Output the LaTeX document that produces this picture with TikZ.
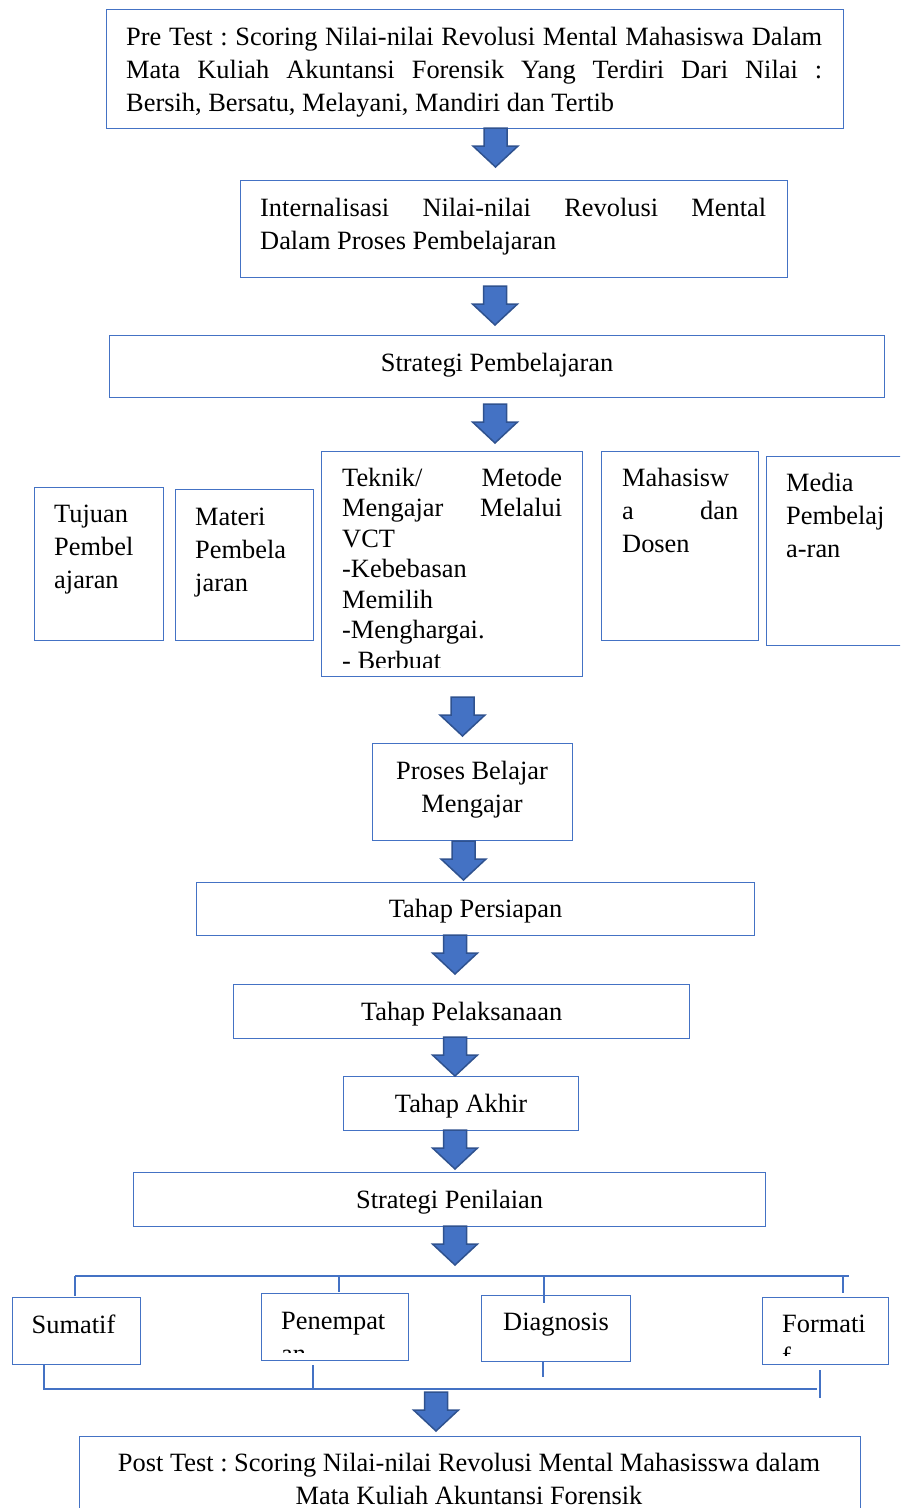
\documentclass[tikz,border=0pt]{standalone}
\usepackage{fontspec}
\setmainfont{Liberation Serif}
\usepackage{tikz}
\usetikzlibrary{positioning,calc}
\definecolor{boxblue}{HTML}{4472C4}
\definecolor{arrowedge}{HTML}{2F528F}
\newcommand{\flowfont}{\fontsize{26.4}{33}\selectfont\frenchspacing}
\newcommand{\spread}[2]{\makebox[#1][s]{#2}}
\tikzset{
  flowbox/.style={draw=boxblue, line width=1.2pt, inner sep=0pt, anchor=north west},
  midbox/.style={flowbox, font=\flowfont, text height=21pt, text depth=4pt},
  boxtext/.style={font=\flowfont, inner sep=0pt, anchor=base west, align=left,
    execute at begin node={\spaceskip=0pt\xspaceskip=0pt\relax}},
  rail/.style={draw=boxblue, line width=1.2pt},
  pics/downarrow/.style={code={
    \filldraw[fill=boxblue, draw=arrowedge, line width=1.5pt]
      (-11.5,0) -- (11.5,0) -- (11.5,18) -- (22.5,18) -- (0,39)
      -- (-22.5,18) -- (-11.5,18) -- cycle;
  }},
}
\begin{document}
\begin{tikzpicture}[x=1pt, y=-1pt]
  \useasboundingbox (0,0) rectangle (900,1508);
  \clip (0,0) rectangle (900,1508);

  % Pre test
  \node[flowbox, minimum width=737pt, minimum height=119pt] (pre) at (106,9) {};
  \node[boxtext, text width=696pt] (pretxt) at (126,45)
    {\spread{696pt}{Pre Test : Scoring Nilai-nilai Revolusi Mental Mahasiswa Dalam}\\
     \spread{696pt}{Mata Kuliah Akuntansi Forensik Yang Terdiri Dari Nilai :}\\
     Bersih, Bersatu, Melayani, Mandiri dan Tertib};

  % Internalisasi
  \node[flowbox, minimum width=547pt, minimum height=97pt] (intern) at (240,180) {};
  \node[boxtext, text width=506pt] (interntxt) at (260,216)
    {\spread{506pt}{Internalisasi Nilai-nilai Revolusi Mental}\\
     Dalam Proses Pembelajaran};

  % Strategi pembelajaran
  \node[midbox, minimum width=775pt, minimum height=62pt,
        text height=19pt, text depth=9pt] (strategi) at (109,335)
    {Strategi Pembelajaran};

  % Komponen
  \node[flowbox, minimum width=129pt, minimum height=153pt] (tujuan) at (34,487) {};
  \node[boxtext, text width=89pt] (tujuantxt) at (54,522) {Tujuan\\Pembel\\ajaran};

  \node[flowbox, minimum width=138pt, minimum height=151pt] (materi) at (175,489) {};
  \node[boxtext, text width=100pt] (materitxt) at (195,525) {Materi\\Pembela\\jaran};

  \node[flowbox, minimum width=261pt, minimum height=225pt] (teknik) at (321,451) {};
  \begin{scope}
    \clip (321,451) rectangle (582,667);
    \node[boxtext, text width=220pt, font=\fontsize{26.4}{30.5}\selectfont]
      (tekniktxt) at (342,486)
      {\spread{220pt}{Teknik/ Metode}\\
       \spread{220pt}{Mengajar Melalui}\\
       VCT\\
       -Kebebasan\\
       Memilih\\
       -Menghargai.\\
       - Berbuat};
  \end{scope}

  \node[flowbox, minimum width=157pt, minimum height=189pt] (mhs) at (601,451) {};
  \node[boxtext, text width=116pt] (mhstxt) at (622,486)
    {Mahasisw\\\spread{116pt}{a dan}\\Dosen};

  \node[flowbox, minimum width=154pt, minimum height=189pt] (media) at (766,456) {};
  \node[boxtext, text width=100pt] (mediatxt) at (786,491) {Media\\Pembelaj\\a-ran};

  % Proses belajar mengajar
  \node[flowbox, minimum width=200pt, minimum height=97pt] (pbm) at (372,743) {};
  \node[boxtext, anchor=base, align=center, text width=180pt] (pbmtxt) at (472,779)
    {\mbox{Proses Belajar}\\\mbox{Mengajar}};

  \node[midbox, minimum width=558pt, minimum height=53pt] (persiapan) at (196,882) {Tahap Persiapan};
  \node[midbox, minimum width=456pt, minimum height=54pt] (pelaksanaan) at (233,984) {Tahap Pelaksanaan};
  \node[midbox, minimum width=235pt, minimum height=54pt] (akhir) at (343,1076) {Tahap Akhir};
  \node[midbox, minimum width=632pt, minimum height=54pt] (penilaian) at (133,1172) {Strategi Penilaian};

  % Jenis penilaian
  \node[flowbox, minimum width=128.5pt, minimum height=67pt] (sumatif) at (11.5,1297) {};
  \node[boxtext, text width=100pt] (sumatiftxt) at (31.5,1333) {Sumatif};

  \node[flowbox, minimum width=147pt, minimum height=67pt] (penempatan) at (261,1293) {};
  \begin{scope}
    \clip (261,1293) rectangle (408,1352);
    \node[boxtext, text width=120pt] (penempatantxt) at (281,1329) {Penempat\\an};
  \end{scope}

  \node[flowbox, minimum width=149pt, minimum height=66pt] (diagnosis) at (481,1295) {};
  \node[boxtext, text width=120pt] (diagnosistxt) at (503,1330) {Diagnosis};

  \node[flowbox, minimum width=126pt, minimum height=67pt] (formatif) at (762,1297) {};
  \begin{scope}
    \clip (762,1297) rectangle (888,1355);
    \node[boxtext, text width=100pt] (formatiftxt) at (782,1332) {Formati\\f};
  \end{scope}

  % Post test
  \node[flowbox, minimum width=781pt, minimum height=100pt] (post) at (79,1436) {};
  \node[boxtext, anchor=base, align=center, text width=760pt] (posttxt) at (469,1471)
    {\mbox{Post Test : Scoring Nilai-nilai Revolusi Mental Mahasisswa dalam}\\
     \mbox{Mata Kuliah Akuntansi Forensik}};

  % Rails
  \coordinate (railtopL) at (75,1276);
  \coordinate (railtopR) at (849,1276);
  \coordinate (railbotL) at (44,1389);
  \coordinate (railbotR) at (817,1389);
  \draw[rail] (railtopL) -- (railtopR);
  \draw[rail] (railtopL) -- ++(0,20);
  \draw[rail] (339,1276) -- ++(0,16);
  \draw[rail] (544,1276) -- ++(0,27);
  \draw[rail] (843,1276) -- ++(0,17);
  \draw[rail] (44,1364) -- (railbotL) -- (railbotR);
  \draw[rail] (313,1365) -- (313,1389);
  \draw[rail] (543,1361) -- ++(0,16);
  \draw[rail] (820,1370) -- ++(0,28);

  % Arrows
  \pic at (495.5,128) {downarrow};
  \pic at (495,286) {downarrow};
  \pic at (495,404) {downarrow};
  \pic at (462.5,697) {downarrow};
  \pic at (463.5,841) {downarrow};
  \pic at (455,935) {downarrow};
  \pic at (455,1037) {downarrow};
  \pic at (455,1130) {downarrow};
  \pic at (455,1226) {downarrow};
  \pic at (436,1392) {downarrow};
\end{tikzpicture}
\end{document}
